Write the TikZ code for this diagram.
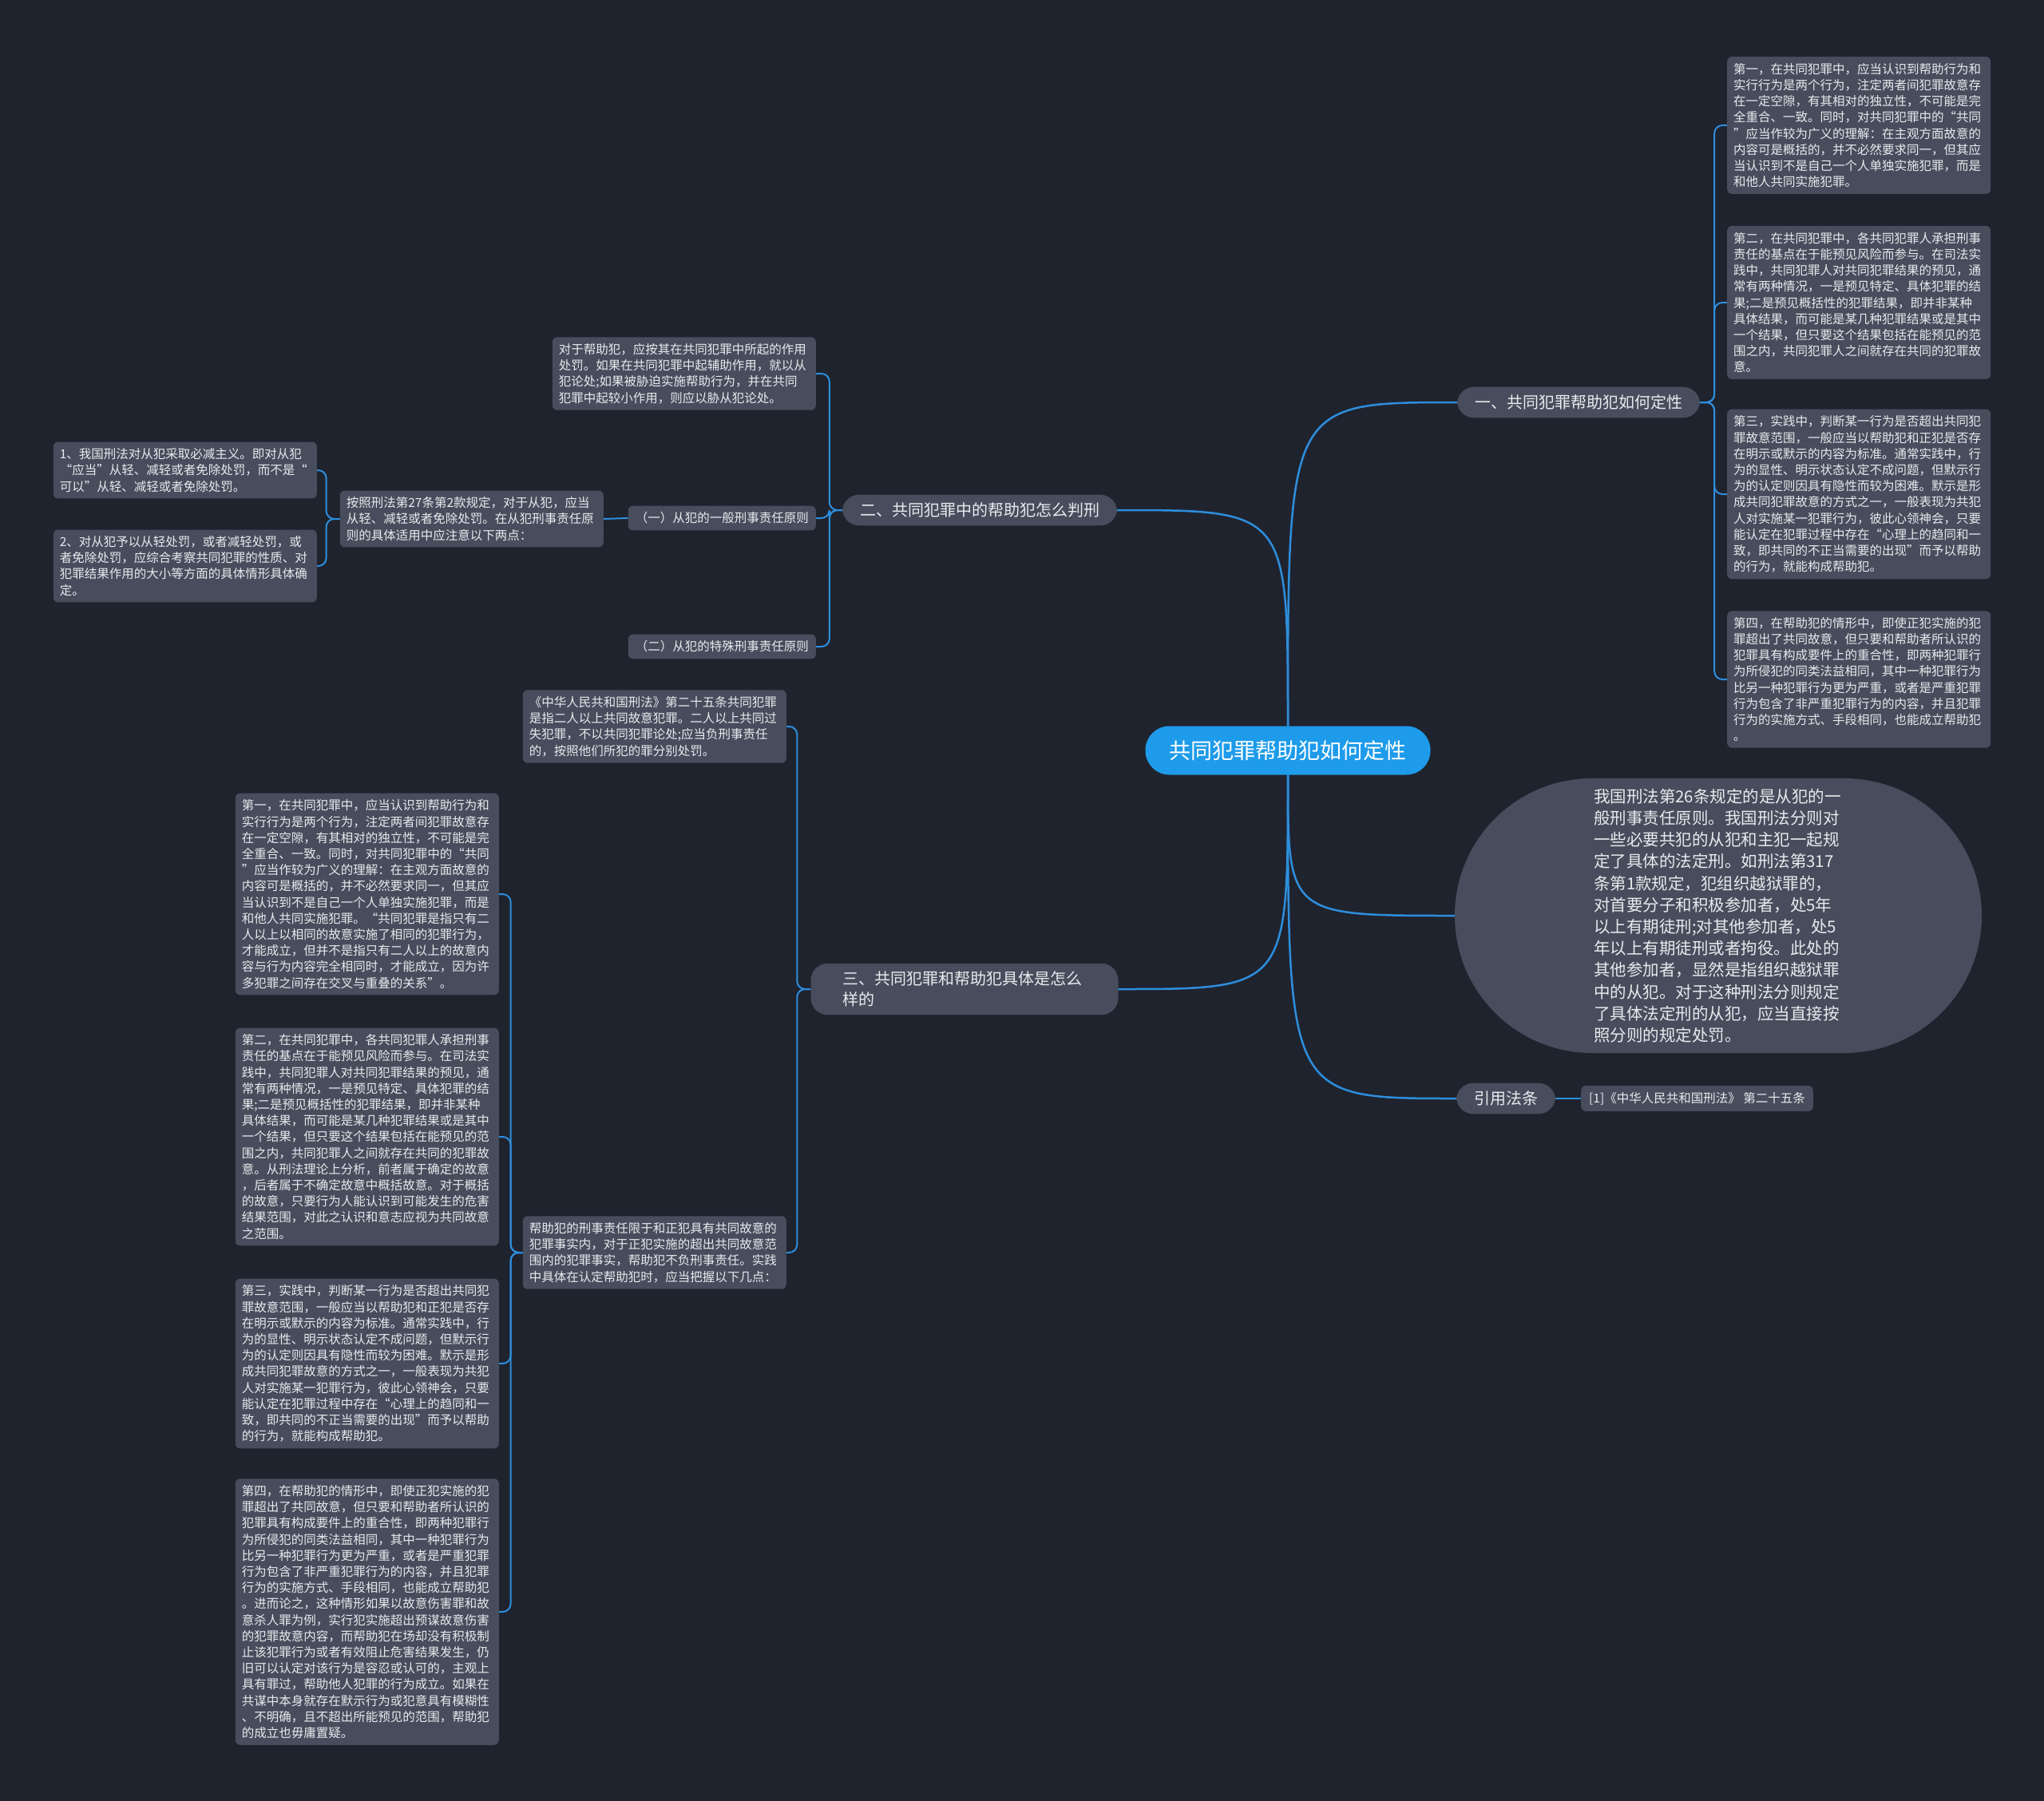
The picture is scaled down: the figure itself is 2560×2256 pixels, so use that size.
\documentclass[tikz,border=0pt]{standalone}
\usepackage{fontspec}
\setmainfont{Noto Sans CJK SC}
\usepackage{xcolor}
\usetikzlibrary{calc, positioning}

\definecolor{bgc}{HTML}{1F232E}
\definecolor{boxc}{HTML}{474D5C}
\definecolor{txtc}{HTML}{E8EAEE}
\definecolor{linec}{HTML}{2D8EDC}
\definecolor{rootc}{HTML}{1E9BEA}

\tikzset{
  leaf/.style={fill=boxc, text=txtc, rounded corners=6pt, align=left, text width=314pt,
    inner xsep=8pt, inner ysep=8pt, font=\fontsize{15.5}{20.2}\selectfont},
  tag/.style={fill=boxc, text=txtc, rounded corners=6pt, inner xsep=9pt, inner ysep=8pt,
    font=\fontsize{15.5}{20.2}\selectfont},
  topic/.style={fill=boxc, text=txtc, rounded corners=21pt, inner xsep=22pt, inner ysep=10pt,
    font=\fontsize{20}{26}\selectfont},
  root/.style={fill=rootc, text=white, rounded corners=30pt, minimum height=61pt,
    inner xsep=30pt, font=\fontsize{27}{32}\selectfont},
  edge/.style={draw=linec, line width=2.5pt},
  fork/.style={draw=linec, line width=2pt, rounded corners=10pt},
}

\begin{document}
\begin{tikzpicture}[x=1pt, y=-1pt]
    % 背景
    \fill[bgc] (0,0) rectangle (2560,2256);

    % 中心与分支
    \node[root] (root) at (1613,940) {共同犯罪帮助犯如何定性};
    \node[topic] (t1) at (1977,504) {一、共同犯罪帮助犯如何定性};
    \node[topic] (t2) at (1227,639) {二、共同犯罪中的帮助犯怎么判刑};
    \node[topic, align=left, text width=305pt, inner xsep=40pt] (t3) at (1208,1239)
        {三、共同犯罪和帮助犯具体是怎么\\样的};
    \node[fill=boxc, text=txtc, rounded corners=172pt, minimum width=660pt, minimum height=344pt,
        align=left, text width=312pt, font=\fontsize{20.5}{27.2}\selectfont] (note) at (2152,1147)
        {我国刑法第26条规定的是从犯的一\\
         般刑事责任原则。我国刑法分则对\\
         一些必要共犯的从犯和主犯一起规\\
         定了具体的法定刑。如刑法第317\\
         条第1款规定，犯组织越狱罪的，\\
         对首要分子和积极参加者，处5年\\
         以上有期徒刑;对其他参加者，处5\\
         年以上有期徒刑或者拘役。此处的\\
         其他参加者，显然是指组织越狱罪\\
         中的从犯。对于这种刑法分则规定\\
         了具体法定刑的从犯，应当直接按\\
         照分则的规定处罚。};
    \node[topic] (cite) at (1886,1376) {引用法条};
    \node[tag, anchor=west, inner xsep=10pt, font=\fontsize{15.5}{20}\selectfont] (c1) at (1980,1376)
        {[1]《中华人民共和国刑法》 第二十五条};

    % 一
    \node[leaf, anchor=west] (r1) at (2163,157)
        {第一，在共同犯罪中，应当认识到帮助行为和\\
         实行行为是两个行为，注定两者间犯罪故意存\\
         在一定空隙，有其相对的独立性，不可能是完\\
         全重合、一致。同时，对共同犯罪中的“共同\\
         ”应当作较为广义的理解：在主观方面故意的\\
         内容可是概括的，并不必然要求同一，但其应\\
         当认识到不是自己一个人单独实施犯罪，而是\\
         和他人共同实施犯罪。};
    \node[leaf, anchor=west] (r2) at (2163,379)
        {第二，在共同犯罪中，各共同犯罪人承担刑事\\
         责任的基点在于能预见风险而参与。在司法实\\
         践中，共同犯罪人对共同犯罪结果的预见，通\\
         常有两种情况，一是预见特定、具体犯罪的结\\
         果;二是预见概括性的犯罪结果，即并非某种\\
         具体结果，而可能是某几种犯罪结果或是其中\\
         一个结果，但只要这个结果包括在能预见的范\\
         围之内，共同犯罪人之间就存在共同的犯罪故\\
         意。};
    \node[leaf, anchor=west] (r3) at (2163,619)
        {第三，实践中，判断某一行为是否超出共同犯\\
         罪故意范围，一般应当以帮助犯和正犯是否存\\
         在明示或默示的内容为标准。通常实践中，行\\
         为的显性、明示状态认定不成问题，但默示行\\
         为的认定则因具有隐性而较为困难。默示是形\\
         成共同犯罪故意的方式之一，一般表现为共犯\\
         人对实施某一犯罪行为，彼此心领神会，只要\\
         能认定在犯罪过程中存在“心理上的趋同和一\\
         致，即共同的不正当需要的出现”而予以帮助\\
         的行为，就能构成帮助犯。};
    \node[leaf, anchor=west] (r4) at (2163,851)
        {第四，在帮助犯的情形中，即使正犯实施的犯\\
         罪超出了共同故意，但只要和帮助者所认识的\\
         犯罪具有构成要件上的重合性，即两种犯罪行\\
         为所侵犯的同类法益相同，其中一种犯罪行为\\
         比另一种犯罪行为更为严重，或者是严重犯罪\\
         行为包含了非严重犯罪行为的内容，并且犯罪\\
         行为的实施方式、手段相同，也能成立帮助犯\\
         。};

    % 二
    \node[leaf, anchor=east] (h1) at (1022,468)
        {对于帮助犯，应按其在共同犯罪中所起的作用\\
         处罚。如果在共同犯罪中起辅助作用，就以从\\
         犯论处;如果被胁迫实施帮助行为，并在共同\\
         犯罪中起较小作用，则应以胁从犯论处。};
    \node[tag, anchor=east] (g1) at (1022,649) {（一）从犯的一般刑事责任原则};
    \node[tag, anchor=east] (g2) at (1022,810) {（二）从犯的特殊刑事责任原则};
    \node[leaf, anchor=east] (p27) at (756,650)
        {按照刑法第27条第2款规定，对于从犯，应当\\
         从轻、减轻或者免除处罚。在从犯刑事责任原\\
         则的具体适用中应注意以下两点：};
    \node[leaf, anchor=east] (p1) at (397,589)
        {1、我国刑法对从犯采取必减主义。即对从犯\\
         “应当”从轻、减轻或者免除处罚，而不是“\\
         可以”从轻、减轻或者免除处罚。};
    \node[leaf, anchor=east] (p2) at (397,709)
        {2、对从犯予以从轻处罚，或者减轻处罚，或\\
         者免除处罚，应综合考察共同犯罪的性质、对\\
         犯罪结果作用的大小等方面的具体情形具体确\\
         定。};

    % 三
    \node[leaf, anchor=east] (law) at (985,910)
        {《中华人民共和国刑法》第二十五条共同犯罪\\
         是指二人以上共同故意犯罪。二人以上共同过\\
         失犯罪，不以共同犯罪论处;应当负刑事责任\\
         的，按照他们所犯的罪分别处罚。};
    \node[leaf, anchor=east] (help) at (985,1569)
        {帮助犯的刑事责任限于和正犯具有共同故意的\\
         犯罪事实内，对于正犯实施的超出共同故意范\\
         围内的犯罪事实，帮助犯不负刑事责任。实践\\
         中具体在认定帮助犯时，应当把握以下几点：};
    \node[leaf, anchor=east] (l1) at (625,1120)
        {第一，在共同犯罪中，应当认识到帮助行为和\\
         实行行为是两个行为，注定两者间犯罪故意存\\
         在一定空隙，有其相对的独立性，不可能是完\\
         全重合、一致。同时，对共同犯罪中的“共同\\
         ”应当作较为广义的理解：在主观方面故意的\\
         内容可是概括的，并不必然要求同一，但其应\\
         当认识到不是自己一个人单独实施犯罪，而是\\
         和他人共同实施犯罪。“共同犯罪是指只有二\\
         人以上以相同的故意实施了相同的犯罪行为，\\
         才能成立，但并不是指只有二人以上的故意内\\
         容与行为内容完全相同时，才能成立，因为许\\
         多犯罪之间存在交叉与重叠的关系”。};
    \node[leaf, anchor=east] (l2) at (625,1424)
        {第二，在共同犯罪中，各共同犯罪人承担刑事\\
         责任的基点在于能预见风险而参与。在司法实\\
         践中，共同犯罪人对共同犯罪结果的预见，通\\
         常有两种情况，一是预见特定、具体犯罪的结\\
         果;二是预见概括性的犯罪结果，即并非某种\\
         具体结果，而可能是某几种犯罪结果或是其中\\
         一个结果，但只要这个结果包括在能预见的范\\
         围之内，共同犯罪人之间就存在共同的犯罪故\\
         意。从刑法理论上分析，前者属于确定的故意\\
         ，后者属于不确定故意中概括故意。对于概括\\
         的故意，只要行为人能认识到可能发生的危害\\
         结果范围，对此之认识和意志应视为共同故意\\
         之范围。};
    \node[leaf, anchor=east] (l3) at (625,1708)
        {第三，实践中，判断某一行为是否超出共同犯\\
         罪故意范围，一般应当以帮助犯和正犯是否存\\
         在明示或默示的内容为标准。通常实践中，行\\
         为的显性、明示状态认定不成问题，但默示行\\
         为的认定则因具有隐性而较为困难。默示是形\\
         成共同犯罪故意的方式之一，一般表现为共犯\\
         人对实施某一犯罪行为，彼此心领神会，只要\\
         能认定在犯罪过程中存在“心理上的趋同和一\\
         致，即共同的不正当需要的出现”而予以帮助\\
         的行为，就能构成帮助犯。};
    \node[leaf, anchor=east] (l4) at (625,2019)
        {第四，在帮助犯的情形中，即使正犯实施的犯\\
         罪超出了共同故意，但只要和帮助者所认识的\\
         犯罪具有构成要件上的重合性，即两种犯罪行\\
         为所侵犯的同类法益相同，其中一种犯罪行为\\
         比另一种犯罪行为更为严重，或者是严重犯罪\\
         行为包含了非严重犯罪行为的内容，并且犯罪\\
         行为的实施方式、手段相同，也能成立帮助犯\\
         。进而论之，这种情形如果以故意伤害罪和故\\
         意杀人罪为例，实行犯实施超出预谋故意伤害\\
         的犯罪故意内容，而帮助犯在场却没有积极制\\
         止该犯罪行为或者有效阻止危害结果发生，仍\\
         旧可以认定对该行为是容忍或认可的，主观上\\
         具有罪过，帮助他人犯罪的行为成立。如果在\\
         共谋中本身就存在默示行为或犯意具有模糊性\\
         、不明确，且不超出所能预见的范围，帮助犯\\
         的成立也毋庸置疑。};

    % 连线
    \draw[edge] (root.north) .. controls (root.north |- t1.west) .. (t1.west);
    \draw[edge] (root.north) .. controls (root.north |- t2.east) .. (t2.east);
    \draw[edge] (root.south) .. controls (root.south |- t3.east) .. (t3.east);
    \draw[edge] (root.south) .. controls (root.south |- note.west) .. (note.west);
    \draw[edge] (root.south) .. controls (root.south |- cite.west) .. (cite.west);

    \foreach \n in {r1,r2,r3,r4}
        \draw[fork] (t1.east) -- ++(18,0) |- (\n.west);
    \foreach \n in {h1,g1,g2}
        \draw[fork] (t2.west) -- ++(-16,0) |- (\n.east);
    \draw[fork] (g1.west) -- (p27.east);
    \foreach \n in {p1,p2}
        \draw[fork] (p27.west) -- ++(-17,0) |- (\n.east);
    \foreach \n in {law,help}
        \draw[fork] (t3.west) -- ++(-17,0) |- (\n.east);
    \foreach \n in {l1,l2,l3,l4}
        \draw[fork] (help.west) -- ++(-15,0) |- (\n.east);
    \draw[fork] (cite.east) -- (c1.west);
\end{tikzpicture}
\end{document}
